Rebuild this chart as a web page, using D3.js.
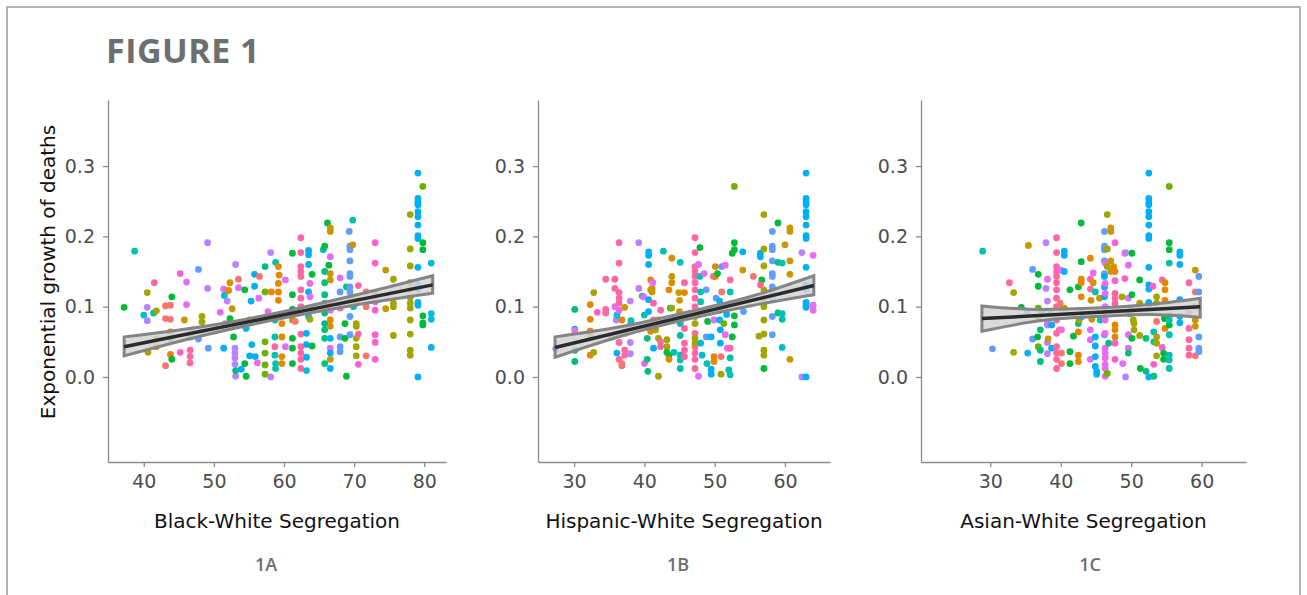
<!DOCTYPE html>
<html>
<head>
<meta charset="utf-8">
<script src="https://cdn.jsdelivr.net/npm/d3@7"></script>
<style>
  body { margin: 0; background: #fff; }
  svg { display: block; }
</style>
</head>
<body>
<div id="chart"></div>
<script>
// colour groups (hue palette), points store an index into this
var groupColors = ["#F8766D", "#E58700", "#C99800", "#A3A500", "#6BB100", "#00BA38", "#00BF7D",
  "#00C0AF", "#00BCD8", "#00B0F6", "#619CFF", "#B983FF", "#E76BF3", "#FD61D1", "#FF67A4"];

var yTicks = [0, 0.1, 0.2, 0.3];
var xTicksA = [40, 50, 60, 70, 80];
var xTicksB = [30, 40, 50, 60];
var xTicksC = [30, 40, 50, 60];
var xTitles = ["Black-White Segregation", "Hispanic-White Segregation", "Asian-White Segregation"];
var panelTags = ["1A", "1B", "1C"];

// [segregation, growth, group]
var pointsA = [
  [37.2,.099,5],[38.7,.179,7],[40.0,.088,8],[40.5,.120,3],[40.5,.099,11],[40.5,.080,11],[41.4,.091,7],[41.8,.094,3],[40.6,.035,3],[41.5,.134,14],[41.8,.054,2],[41.8,.043,2],
  [43.1,.101,0],[43.8,.102,0],[43.1,.083,0],[43.8,.082,0],[44.0,.114,5],[43.8,.064,1],[43.9,.055,5],[43.8,.032,1],[44.0,.025,5],[43.1,.016,0],
  [45.2,.147,13],[45.2,.035,13],[46.1,.135,12],[46.1,.103,12],[45.8,.081,2],[46.6,.066,14],[46.6,.057,6],[46.6,.038,14],[46.6,.029,14],[46.6,.020,14],[47.0,.067,12],
  [47.8,.153,10],[47.8,.054,10],[48.3,.086,3],[48.3,.078,3],[48.3,.067,3],[49.1,.191,11],[49.1,.126,11],[49.2,.041,10],
  [50.9,.092,12],[51.4,.125,12],[51.5,.116,8],[51.9,.108,11],[52.3,.134,2],[52.6,.097,2],[52.1,.123,1],[53.1,.160,11],[53.5,.139,0],[53.5,.127,12],[54.4,.124,5],[54.2,.074,9],
  [51.4,.041,9],[51.6,.076,12],[52.3,.083,5],[52.8,.057,5],[53.0,.041,11],[53.0,.034,11],[53.0,.027,11],[53.0,.018,11],[53.1,.001,11],[53.1,.009,6],[53.9,.011,9],[54.6,.001,5],
  [54.4,.019,5],[55.1,.030,9],[55.9,.029,9],[54.6,.069,8],[55.1,.081,3],[55.4,.046,9],[55.3,.108,9],[55.8,.146,9],[55.8,.129,9],[56.5,.143,0],[56.4,.112,12],[56.2,.020,12],
  [57.3,.157,6],[57.3,.121,4],[57.3,.050,4],[57.3,.034,4],[57.3,.017,4],[57.3,.004,4],[58.1,.177,11],[58.1,.000,11],[57.7,.093,12],[58.2,.121,1],[58.8,.163,7],
  [59.2,.157,1],[59.3,.145,1],[59.2,.133,1],[59.2,.121,1],[59.2,.109,1],[58.7,.081,7],[58.7,.057,7],[58.7,.043,14],[58.7,.031,7],[58.8,.019,7],[58.8,.012,7],
  [59.7,.076,1],[59.7,.057,1],[59.7,.029,1],[59.7,.019,1],[60.2,.138,12],[60.2,.043,12],
  [61.2,.176,5],[61.2,.117,5],[61.2,.096,5],[61.2,.081,3],[61.2,.055,5],[61.2,.041,5],[61.2,.019,5],[61.6,.079,0],
  [62.4,.198,14],[62.4,.177,14],[62.4,.157,14],[62.4,.150,14],[62.4,.143,14],[62.4,.124,14],[62.4,.112,14],[62.4,.100,14],[62.4,.061,14],[62.4,.043,14],[62.4,.034,14],[62.4,.025,14],[62.4,.012,14],
  [63.5,.180,9],[63.5,.174,9],[63.5,.160,9],[63.5,.121,9],[63.5,.086,9],[63.2,.062,9],[63.2,.046,9],[63.2,.028,9],[63.2,.009,8],[63.7,.133,12],[63.7,.114,12],[63.7,.082,3],
  [64.0,.146,5],[64.0,.098,5],[64.0,.044,5],
  [65.6,.181,7],[65.8,.186,5],[65.8,.150,6],[65.8,.134,6],[65.8,.117,6],[65.8,.105,6],[65.8,.091,6],[65.8,.076,6],[65.8,.067,6],[65.8,.055,6],[65.8,.019,6],
  [66.2,.219,5],[66.6,.212,2],[66.6,.207,2],[66.6,.171,12],[66.4,.159,5],[66.6,.147,2],[66.6,.138,2],[66.6,.105,12],[66.6,.095,12],[66.6,.081,1],[66.6,.072,2],
  [66.6,.055,9],[66.6,.041,12],[66.6,.034,9],[66.6,.025,2],[66.6,.012,9],
  [68.0,.141,12],[68.0,.121,10],[68.0,.098,14],[68.0,.057,10],[68.0,.043,10],[68.0,.036,10],[68.9,.128,6],[68.7,.076,5],[68.7,.055,5],[68.9,.001,5],
  [69.3,.207,10],[69.4,.186,10],[69.4,.181,10],[69.4,.165,10],[69.4,.147,10],[69.4,.143,10],[69.4,.128,10],[69.4,.121,10],[69.4,.112,10],[69.4,.086,10],[69.4,.060,10],
  [69.8,.223,7],[69.8,.188,2],[69.9,.100,7],[70.3,.114,3],[70.3,.105,3],[70.3,.076,3],[70.3,.072,3],[70.3,.055,3],[70.3,.043,3],[70.3,.030,3],
  [70.6,.130,14],[70.6,.061,14],[70.6,.018,13],[71.7,.121,0],[71.7,.100,0],[71.7,.030,0],
  [73.0,.191,13],[73.0,.162,13],[73.0,.120,13],[73.0,.107,13],[73.0,.095,13],[73.0,.060,13],[73.0,.049,13],[73.0,.025,13],
  [74.5,.152,2],[74.5,.097,2],[75.6,.139,3],[75.6,.105,3],[75.6,.100,3],[75.6,.059,3],
  [78.0,.231,3],[78.0,.182,3],[78.0,.158,3],[78.0,.134,3],[78.0,.124,3],[78.0,.113,3],[78.0,.105,3],[78.0,.098,3],[78.0,.081,3],[78.0,.061,3],[78.0,.038,3],[78.0,.031,3],
  [79.1,.290,9],[79.1,.254,9],[79.1,.249,9],[79.1,.245,9],[79.1,.235,9],[79.1,.228,9],[79.1,.216,9],[79.1,.201,9],[79.1,.197,9],[79.1,.156,9],[79.1,.131,9],
  [79.1,.125,9],[79.1,.106,9],[79.1,.102,9],[79.1,.000,9],
  [79.8,.271,4],[79.8,.191,5],[79.8,.181,5],[79.8,.087,5],[79.8,.077,5],[79.8,.074,5],
  [81.0,.162,8],[81.0,.090,8],[81.0,.082,8],[81.0,.042,9]
];

var pointsB = [
  [27.4,.040,10],[30.1,.096,6],[30.1,.068,7],[30.1,.066,12],[30.1,.038,6],[30.1,.022,6],
  [32.3,.103,1],[32.3,.082,1],[32.3,.065,1],[32.3,.060,1],[32.3,.055,1],[32.3,.031,1],[32.8,.120,3],[32.8,.035,3],[33.3,.092,13],
  [34.5,.139,14],[34.5,.096,14],[34.5,.091,14],[35.4,.057,5],[35.8,.139,14],[35.8,.126,14],[35.8,.100,12],[36.0,.081,11],[36.1,.088,8],[36.1,.034,9],
  [36.4,.191,14],[36.4,.162,14],[36.4,.120,14],[36.4,.112,14],[36.4,.105,14],[36.4,.095,12],[36.4,.060,14],[36.4,.049,14],[36.4,.025,14],
  [36.8,.081,1],[36.8,.016,0],[36.8,.019,0],[37.2,.067,0],[37.2,.062,14],[37.2,.038,14],[37.2,.031,14],[37.2,.099,2],
  [38.0,.108,11],[38.0,.074,11],[38.0,.049,11],[38.0,.033,11],[38.1,.080,7],[39.2,.191,11],[39.2,.126,11],[39.7,.115,7],[39.9,.114,12],
  [40.0,.088,7],[40.0,.019,12],[40.4,.055,6],[40.4,.025,6],[40.5,.008,6],[40.6,.178,9],[40.6,.173,9],[40.6,.160,9],[40.6,.110,9],[40.6,.093,9],[40.6,.072,9],
  [40.9,.138,1],[40.9,.124,1],[40.9,.065,1],[41.1,.126,2],[41.1,.121,2],[41.2,.134,12],[41.3,.105,14],[41.3,.081,14],[41.3,.041,9],[41.6,.067,3],
  [42.0,.001,3],[42.0,.081,3],[42.0,.055,3],[42.3,.050,14],[42.3,.043,14],[42.3,.095,14],[42.7,.179,7],
  [43.2,.081,3],[43.2,.053,3],[43.2,.043,3],[43.2,.035,5],[43.5,.030,5],[43.5,.025,1],[43.5,.124,1],[43.7,.098,5],[43.9,.169,1],[43.9,.143,2],[43.9,.134,2],[43.9,.098,3],
  [44.2,.083,7],[44.2,.035,7],[44.9,.120,2],[45.0,.109,2],[45.0,.093,2],[45.1,.163,7],[45.1,.081,7],[45.1,.076,7],[45.1,.059,7],[45.1,.031,7],[45.1,.024,7],[45.1,.012,7],
  [45.7,.134,14],[45.7,.120,1],[45.7,.069,14],[45.7,.048,14],[45.7,.038,14],[45.7,.029,14],
  [47.2,.198,14],[47.2,.177,14],[47.2,.157,14],[47.2,.150,14],[47.2,.143,14],[47.2,.134,14],[47.2,.124,14],[47.2,.112,14],[47.2,.100,14],[47.2,.062,14],
  [47.2,.043,14],[47.2,.034,14],[47.2,.025,14],[47.2,.012,14],[47.2,.076,3],[47.2,.086,3],[47.2,.055,3],[47.2,.048,3],
  [47.7,.160,12],[47.7,.001,12],[47.9,.184,5],[47.9,.143,7],[48.0,.121,7],[48.0,.107,7],[48.0,.048,8],[48.2,.031,8],[48.5,.147,12],[48.8,.124,10],[48.8,.057,10],
  [48.9,.019,7],[49.0,.079,5],[49.4,.095,3],[49.5,.057,9],[49.5,.011,9],[49.5,.004,9],[49.8,.143,12],[49.9,.081,12],[49.9,.029,1],[49.9,.022,1],
  [50.1,.143,1],[50.1,.157,1],[50.2,.112,10],[50.4,.147,5],[50.6,.099,3],[50.7,.108,9],[50.7,.095,4],[50.7,.081,9],[50.8,.067,9],[50.8,.048,9],[50.9,.029,0],[50.9,.004,3],
  [51.0,.157,10],[51.0,.121,0],[51.3,.076,4],[51.5,.159,12],[51.5,.060,12],[51.7,.089,9],[51.8,.041,12],[52.0,.010,7],[52.2,.027,7],[52.2,.003,7],[52.2,.121,7],
  [52.2,.138,14],[52.2,.041,14],[52.5,.176,5],[52.5,.057,5],
  [52.8,.271,4],[52.8,.191,5],[52.8,.181,5],[52.8,.087,5],[52.8,.074,5],
  [54.0,.178,9],[54.0,.152,2],[54.1,.093,10],[55.5,.143,0],[56.3,.058,3],[56.5,.176,9],[56.5,.171,9],[56.7,.138,5],[56.5,.131,14],
  [57.0,.231,3],[57.0,.182,3],[57.0,.158,3],[57.0,.124,3],[57.0,.113,3],[57.0,.105,3],[57.0,.081,3],[57.0,.061,3],[57.0,.038,3],[57.0,.031,3],[57.0,.012,5],[57.0,.100,3],
  [58.2,.207,10],[58.2,.186,10],[58.2,.181,10],[58.2,.165,10],[58.2,.147,10],[58.2,.143,10],[58.2,.128,10],[58.2,.121,10],[58.2,.112,10],[58.2,.086,10],[58.2,.060,10],
  [59.0,.219,5],[59.0,.163,6],[59.0,.091,6],[59.6,.162,7],[59.6,.090,7],[59.6,.082,7],[59.6,.042,8],
  [60.0,.188,2],[60.7,.212,2],[60.7,.207,2],[60.7,.165,2],[60.7,.146,2],[60.7,.025,2],[62.4,.177,11],[62.4,.000,11],
  [63.0,.290,9],[63.0,.254,9],[63.0,.249,9],[63.0,.245,9],[63.0,.235,9],[63.0,.228,9],[63.0,.216,9],[63.0,.201,9],[63.0,.197,9],[63.0,.156,9],[63.0,.131,9],
  [63.0,.125,9],[63.0,.106,9],[63.0,.102,9],[63.0,.099,9],[63.0,.000,9],
  [64.0,.173,12],[64.0,.102,12],[64.0,.095,12]
];

var pointsC = [
  [28.9,.179,7],[30.3,.040,10],[32.7,.134,14],[33.3,.120,3],[33.3,.035,3],[34.4,.099,5],[35.2,.093,9],[35.4,.187,2],[35.3,.034,9],
  [36.0,.153,10],[36.0,.054,10],[36.8,.146,5],[36.8,.129,5],[36.8,.098,4],[36.8,.083,4],[36.7,.057,5],[36.8,.043,4],[37.1,.067,6],[37.1,.038,6],[37.1,.022,6],[37.3,.093,7],
  [37.9,.191,11],[37.9,.126,11],[38.1,.139,12],[38.1,.108,11],[38.1,.076,12],[38.1,.074,11],[38.1,.049,11],[38.1,.033,11],[38.2,.054,2],[38.5,.091,9],[38.7,.074,9],[38.7,.041,9],
  [39.4,.198,14],[39.4,.177,14],[39.4,.157,14],[39.4,.150,14],[39.4,.143,14],[39.4,.134,14],[39.4,.124,14],[39.4,.112,14],[39.4,.100,14],[39.4,.081,14],
  [39.4,.062,14],[39.4,.043,14],[39.4,.034,14],[39.4,.025,14],[39.4,.012,14],
  [39.8,.067,0],[39.9,.105,0],[39.9,.098,0],[40.0,.152,12],[40.1,.067,12],[40.1,.034,0],[40.1,.019,0],[40.5,.098,2],[40.5,.179,9],[40.5,.173,9],[40.5,.150,9],
  [41.3,.124,5],[41.3,.036,5],[41.3,.019,5],[41.8,.058,5],[42.5,.128,5],[42.5,.076,6],[42.6,.081,3],[42.5,.031,1],[42.5,.022,1],
  [42.9,.219,5],[42.9,.164,5],[42.9,.139,1],[42.9,.134,1],[42.9,.114,1],[43.0,.091,11],[42.5,.064,1],[43.0,.086,9],
  [44.2,.139,14],[44.2,.125,14],[44.2,.169,1],[44.3,.109,2],[44.2,.067,12],[44.2,.053,12],[44.2,.025,12],[44.4,.082,2],[44.6,.148,12],[44.6,.134,2],[44.9,.121,7],
  [44.9,.057,9],[44.9,.044,9],[44.9,.029,9],[44.9,.015,9],[45.1,.008,9],[45.1,.004,9],[45.5,.112,2],[45.6,.081,7],
  [46.2,.207,10],[46.2,.186,10],[46.2,.181,10],[46.2,.165,10],[46.2,.147,10],[46.2,.143,9],[46.2,.128,9],[46.2,.114,9],[46.2,.086,10],[46.2,.060,10],
  [46.3,.162,12],[46.3,.133,12],[46.3,.119,12],[46.3,.100,12],[46.3,.081,12],[46.3,.062,12],[46.3,.041,12],[46.3,.034,12],[46.3,.027,12],[46.3,.018,12],[46.3,.012,12],[46.3,.001,12],
  [46.6,.231,3],[46.6,.182,3],[46.6,.157,3],[46.6,.005,4],[46.8,.048,6],[47.1,.212,2],[47.1,.207,2],[47.1,.165,2],[47.1,.150,2],[47.5,.157,1],
  [47.7,.191,13],[47.7,.150,1],[47.7,.119,14],[47.7,.112,14],[47.7,.105,14],[47.7,.098,14],[47.7,.074,1],[47.7,.067,1],[47.7,.057,1],[47.7,.048,13],[47.7,.025,13],[47.7,.137,13],
  [48.7,.114,3],[48.8,.019,12],[49.1,.176,13],[49.1,.140,13],[49.2,.177,11],[49.2,.000,11],[49.6,.159,12],[49.6,.112,12],[49.6,.098,12],[49.6,.060,12],[49.6,.041,12],
  [49.6,.034,6],[49.8,.090,6],[50.1,.176,5],[50.1,.117,5],[50.1,.096,5],[50.1,.055,5],[50.3,.081,3],[50.4,.076,3],[50.4,.067,3],
  [51.2,.138,5],[51.2,.105,3],[51.2,.100,3],[51.2,.059,3],[51.3,.012,5],[52.1,.055,6],[52.1,.008,6],
  [52.5,.290,9],[52.5,.254,9],[52.5,.249,9],[52.5,.245,9],[52.5,.235,9],[52.5,.228,9],[52.5,.216,9],[52.5,.201,9],[52.5,.197,9],[52.5,.156,9],[52.5,.131,9],
  [52.5,.125,9],[52.5,.106,9],[52.5,.102,9],[52.5,.000,9],
  [53.1,.129,13],[53.2,.018,13],[53.2,.001,6],[53.2,.064,7],[53.2,.050,7],[53.6,.114,3],[53.6,.105,3],[53.6,.079,0],[53.6,.057,3],[53.6,.048,3],[53.6,.030,3],
  [54.4,.138,14],[54.4,.042,13],[54.6,.034,5],[54.6,.025,5],[54.7,.083,5],[54.8,.134,1],[54.8,.124,1],[54.8,.109,1],[54.8,.069,1],
  [55.4,.271,4],[55.4,.191,5],[55.4,.181,5],[55.4,.162,7],[55.4,.087,5],[55.4,.074,5],[55.4,.081,7],[55.4,.060,7],[55.4,.031,7],[55.4,.024,7],[55.4,.012,7],
  [56.9,.178,9],[56.9,.173,9],[56.9,.160,9],[56.9,.110,9],[56.9,.086,9],[56.9,.077,9],
  [58.2,.134,14],[58.2,.091,14],[58.2,.069,14],[58.2,.053,14],[58.2,.041,14],[58.2,.031,14],
  [59.1,.152,2],[59.1,.121,0],[59.1,.100,0],[59.1,.081,2],[59.1,.072,2],[59.1,.030,0],
  [59.6,.143,10],[59.6,.121,10],[59.6,.057,10],[59.6,.041,10],[59.6,.036,10]
];

// fitted line with confidence band: [x, fit, lower, upper]
var fitA = [[37.2,.043,.030,.057],[48,.064,.058,.071],[59,.087,.082,.091],[70,.109,.102,.116],[81.2,.131,.119,.144]];
var fitB = [[27.3,.042,.028,.057],[37,.065,.059,.072],[46.5,.088,.083,.093],[55,.107,.101,.114],[64.1,.130,.117,.144]];
var fitC = [[28.8,.083,.065,.101],[37,.088,.080,.096],[45,.092,.086,.098],[52.5,.096,.089,.103],[59.8,.100,.085,.112]];

var width = 1307;
var height = 595;

var svg = d3.select("#chart")
  .append("svg")
  .attr("width", width)
  .attr("height", height)

svg.append("rect")
  .attr("x", 0).attr("y", 0)
  .attr("width", width).attr("height", height)
  .attr("fill", "#fff")

// frame
svg.append("rect")
  .attr("x", 7).attr("y", 7)
  .attr("width", 1293).attr("height", 620)
  .attr("fill", "none")
  .attr("stroke", "#9a9a9a")
  .attr("stroke-width", 1.5)

svg.append("text")
  .attr("x", 106)
  .attr("y", 63)
  .attr("font-family", "'Open Sans', sans-serif")
  .attr("font-weight", 700)
  .attr("font-size", 34)
  .attr("letter-spacing", 0.5)
  .attr("fill", "#6d6e71")
  .text("FIGURE 1")

var yScale = d3.scaleLinear().domain([-0.121, 0.394]).range([462, 100]);

var panels = [
  { points: pointsA, fit: fitA, ticks: xTicksA, domain: [34.9, 83.1], left: 108, right: 446, tagX: 266 },
  { points: pointsB, fit: fitB, ticks: xTicksB, domain: [24.87, 66.4], left: 538, right: 830, tagX: 678 },
  { points: pointsC, fit: fitC, ticks: xTicksC, domain: [20.15, 66.3], left: 921, right: 1246, tagX: 1090 }
];

panels.forEach(function (p, i) {
  var x = d3.scaleLinear().domain(p.domain).range([p.left, p.right]);
  var g = svg.append("g");

  // axes
  var yAxis = g.append("g")
    .attr("transform", "translate(" + p.left + ",0)")
    .call(d3.axisLeft(yScale).tickValues(yTicks).tickFormat(d3.format(".1f")).tickSize(5).tickSizeOuter(0).tickPadding(8));
  var xAxis = g.append("g")
    .attr("transform", "translate(0,462)")
    .call(d3.axisBottom(x).tickValues(p.ticks).tickSize(5).tickSizeOuter(0).tickPadding(8));

  [yAxis, xAxis].forEach(function (a) {
    a.select(".domain").attr("stroke", "#8a8a8a").attr("stroke-width", 1.3);
    a.selectAll(".tick line").attr("stroke", "#8a8a8a").attr("stroke-width", 1.3);
    a.selectAll(".tick text")
      .attr("font-family", "'DejaVu Sans', Verdana, sans-serif")
      .attr("font-size", 19)
      .attr("fill", "#4d4d4d");
  });

  g.selectAll(".dot")
    .data(p.points)
    .enter()
    .append("circle")
    .attr("class", "dot")
    .attr("cx", function (d) { return x(d[0]) })
    .attr("cy", function (d) { return yScale(d[1]) })
    .attr("r", 3.4)
    .attr("fill", function (d) { return groupColors[d[2]] })

  var band = d3.area()
    .x(function (d) { return x(d[0]) })
    .y0(function (d) { return yScale(d[2]) })
    .y1(function (d) { return yScale(d[3]) })
    .curve(d3.curveMonotoneX);

  g.append("path")
    .datum(p.fit)
    .attr("d", band)
    .attr("fill", "#d4d4d4")
    .attr("fill-opacity", 0.85)
    .attr("stroke", "#858585")
    .attr("stroke-width", 3)

  var line = d3.line()
    .x(function (d) { return x(d[0]) })
    .y(function (d) { return yScale(d[1]) });

  g.append("path")
    .datum([p.fit[0], p.fit[p.fit.length - 1]])
    .attr("d", line)
    .attr("fill", "none")
    .attr("stroke", "#2b2b2b")
    .attr("stroke-width", 3.5)

  g.append("text")
    .attr("x", (p.left + p.right) / 2)
    .attr("y", 528)
    .attr("text-anchor", "middle")
    .attr("font-family", "'DejaVu Sans', Verdana, sans-serif")
    .attr("font-size", 20)
    .attr("fill", "#111")
    .text(xTitles[i])

  g.append("text")
    .attr("x", p.tagX)
    .attr("y", 571)
    .attr("text-anchor", "middle")
    .attr("font-family", "'Open Sans', sans-serif")
    .attr("font-weight", 600)
    .attr("font-size", 18)
    .attr("fill", "#6d6e71")
    .text(panelTags[i])
});

svg.append("text")
  .attr("transform", "translate(55,272) rotate(-90)")
  .attr("text-anchor", "middle")
  .attr("font-family", "'DejaVu Sans', Verdana, sans-serif")
  .attr("font-size", 20)
  .attr("fill", "#111")
  .text("Exponential growth of deaths")
</script>
</body>
</html>
